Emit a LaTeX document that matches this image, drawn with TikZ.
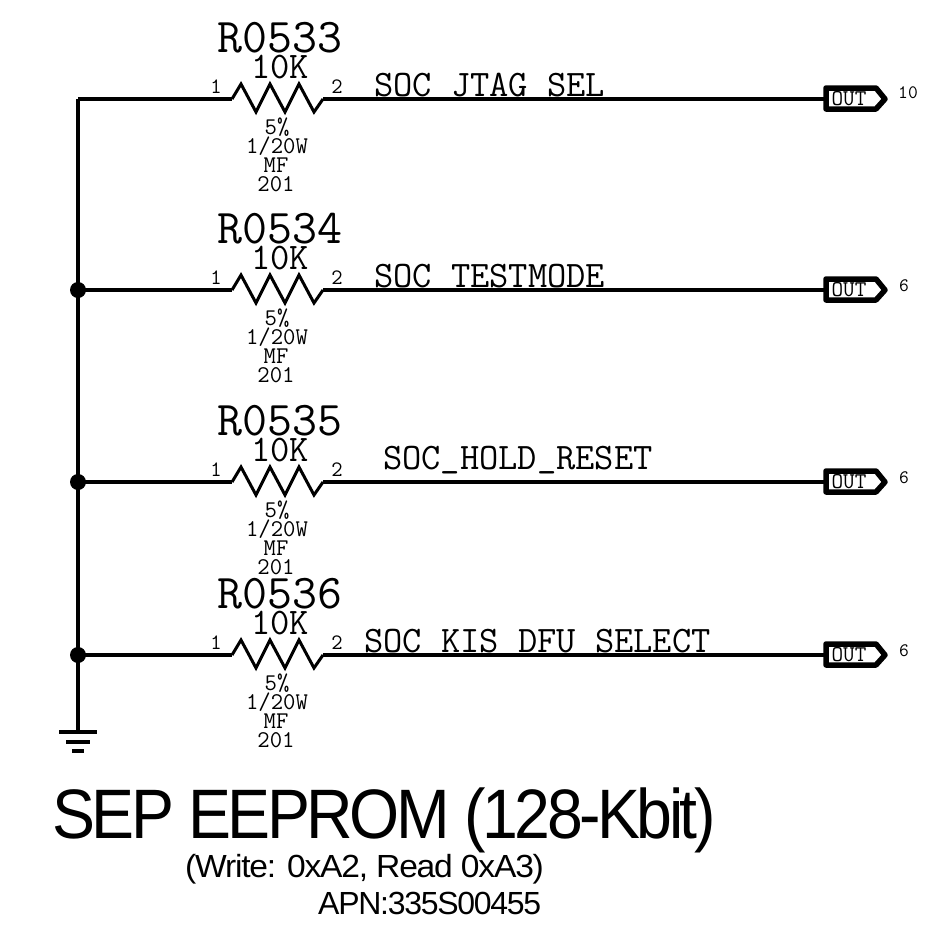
\documentclass[tikz,border=0pt]{standalone}
\usepackage{fontspec}
\newfontfamily\ttlfont[LetterSpace=-5,FakeStretch=0.92]{Liberation Sans}
\newfontfamily\subfont[LetterSpace=-3.8,FakeStretch=1.05]{Liberation Sans}
\newfontfamily\apnfont[LetterSpace=-4]{Liberation Sans}
\newcommand{\lowbar}{\raisebox{2.2pt}{\_}}
\tikzset{
  lbl/.style={inner sep=0pt,outer sep=0pt,font=\ttfamily},
  wire/.style={line width=3.2pt},
  zig/.style={line width=3pt,line join=miter},
  pin/.style={lbl,font=\ttfamily\fontsize{22}{22}\selectfont},
  porttext/.style={lbl,font=\ttfamily\fontsize{22.5}{23}\selectfont},
  small/.style={lbl,font=\ttfamily\fontsize{24}{24}\selectfont},
  ref/.style={lbl,font=\ttfamily\fontsize{48.5}{48}\selectfont},
  val/.style={lbl,font=\ttfamily\fontsize{37.5}{37}\selectfont},
  net/.style={lbl,anchor=base west,font=\ttfamily\fontsize{37.4}{37}\selectfont},
  port/.style={line width=5.5pt,line join=round,fill=white},
  dot/.style={circle,fill=black,inner sep=0pt,minimum size=16pt},
}
\begin{document}
\begin{tikzpicture}[x=1pt,y=-1pt]
\useasboundingbox (0,0) rectangle (934,946);
\coordinate (top) at (78,99);
\coordinate (gnd) at (78,732);
\foreach \n/\y/\rf/\name/\nx/\base/\sheet/\sx/\sy in {
  1/99/R0533/SOC\lowbar JTAG\lowbar SEL/374/96/10/908/93,
  2/290/R0534/SOC\lowbar TESTMODE/374/287/6/904/286,
  3/482/R0535/SOC\lowbar HOLD\lowbar RESET/383/469/6/904/478,
  4/655/R0536/SOC\lowbar KIS\lowbar DFU\lowbar SELECT/364/652/6/904/651}{
  \coordinate (bus\n) at (78,\y);
  \coordinate (ra\n) at (232,\y);
  \coordinate (rb\n) at (323,\y);
  \coordinate (pt\n) at (826,\y);
  \node[net] (net\n) at (\nx,\base) {\name};
  \draw[wire] (bus\n) -- (ra\n);
  \draw[wire] (rb\n) -- (pt\n);
  \draw[zig] (ra\n) -- ++(9,-15) -- ++(15,28) -- ++(14,-28) -- ++(15,28) -- ++(14,-28) -- ++(15,28) -- (rb\n);
  \node[pin] (p1\n) at (216,\y-12) {1};
  \node[pin] (p2\n) at (337,\y-12) {2};
  \node[ref] (ref\n) at (280,\y-61) {\rf};
  \node[val] (val\n) at (280,\y-32) {10K};
  \node[small] (tol\n) at (277,\y+28) {5\%};
  \node[small] (pow\n) at (277,\y+47) {1/20W};
  \node[small] (mat\n) at (276,\y+66) {MF};
  \node[small] (siz\n) at (276,\y+85) {201};
  \draw[port] (pt\n) -- ++(0,-11) -- ++(50,0) -- ++(9,11) -- ++(-9,10) -- ++(-50,0) -- cycle;
  \node[porttext] (out\n) at (849,\y) {OUT};
  \node[lbl,font=\ttfamily\fontsize{19}{19}\selectfont] (sh\n) at (\sx,\sy) {\sheet};
}
\draw[wire] (top) -- (bus1) -- (bus2) -- (bus3) -- (bus4) -- (gnd);
\node[dot] (d2) at (bus2) {};
\node[dot] (d3) at (bus3) {};
\node[dot] (d4) at (bus4) {};
\coordinate (g2) at (78,742);
\coordinate (g3) at (78,751);
\draw[wire] ([xshift=-19pt]gnd) -- ([xshift=19pt]gnd);
\draw[wire] ([xshift=-12pt]g2) -- ([xshift=12pt]g2);
\draw[wire] ([xshift=-6pt]g3) -- ([xshift=6pt]g3);
\node[inner sep=0pt,anchor=base west,font=\ttlfont\fontsize{70}{70}\selectfont] (title) at (52,838) {SEP EEPROM (128-Kbit)};
\node[inner sep=0pt,anchor=base west,font=\subfont\fontsize{32}{32}\selectfont] (sub) at (185,877) {(Write: 0xA2, Read 0xA3)};
\node[inner sep=0pt,anchor=base west,font=\apnfont\fontsize{32}{32}\selectfont] (apn) at (318,914) {APN:335S00455};
\end{tikzpicture}
\end{document}
